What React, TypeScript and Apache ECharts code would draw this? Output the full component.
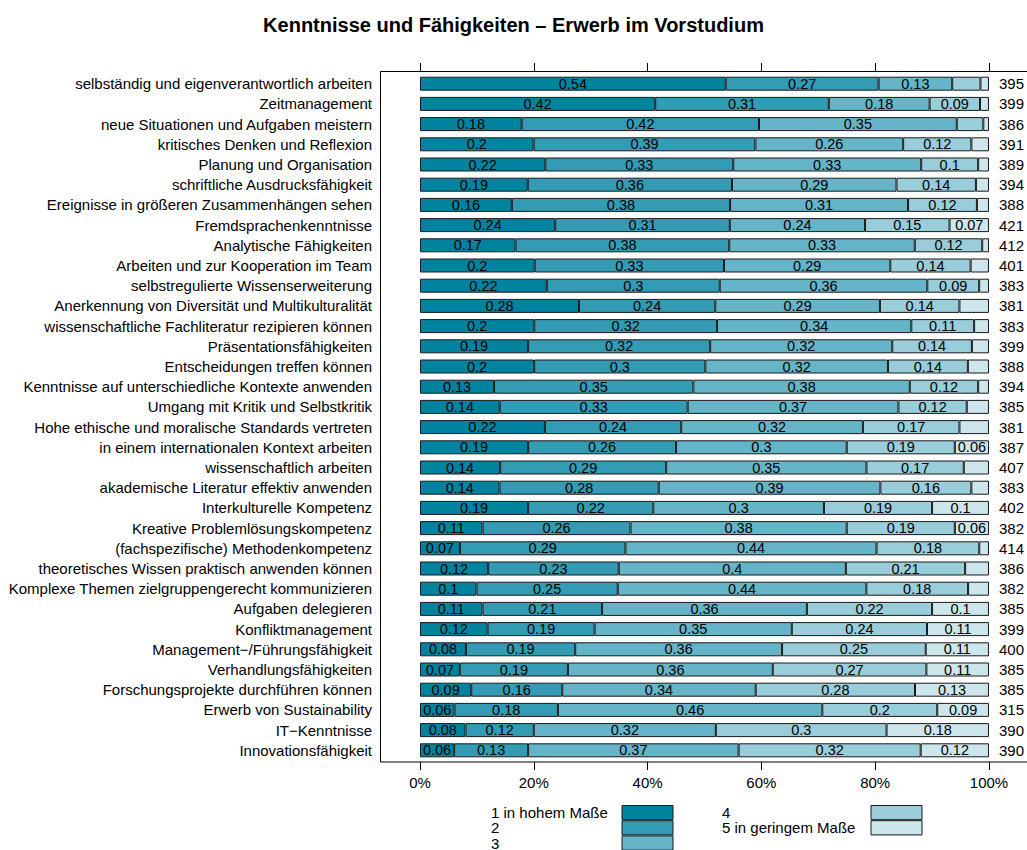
import React, { useEffect, useRef } from "react";
import * as echarts from "echarts";

const categories = [
  "selbständig und eigenverantwortlich arbeiten",
  "Zeitmanagement",
  "neue Situationen und Aufgaben meistern",
  "kritisches Denken und Reflexion",
  "Planung und Organisation",
  "schriftliche Ausdrucksfähigkeit",
  "Ereignisse in größeren Zusammenhängen sehen",
  "Fremdsprachenkenntnisse",
  "Analytische Fähigkeiten",
  "Arbeiten und zur Kooperation im Team",
  "selbstregulierte Wissenserweiterung",
  "Anerkennung von Diversität und Multikulturalität",
  "wissenschaftliche Fachliteratur rezipieren können",
  "Präsentationsfähigkeiten",
  "Entscheidungen treffen können",
  "Kenntnisse auf unterschiedliche Kontexte anwenden",
  "Umgang mit Kritik und Selbstkritik",
  "Hohe ethische und moralische Standards vertreten",
  "in einem internationalen Kontext arbeiten",
  "wissenschaftlich arbeiten",
  "akademische Literatur effektiv anwenden",
  "Interkulturelle Kompetenz",
  "Kreative Problemlösungskompetenz",
  "(fachspezifische) Methodenkompetenz",
  "theoretisches Wissen praktisch anwenden können",
  "Komplexe Themen zielgruppengerecht kommunizieren",
  "Aufgaben delegieren",
  "Konfliktmanagement",
  "Management\u2212/Führungsfähigkeit",
  "Verhandlungsfähigkeiten",
  "Forschungsprojekte durchführen können",
  "Erwerb von Sustainability",
  "IT\u2212Kenntnisse",
  "Innovationsfähigkeit",
];

const nValues = [
  395, 399, 386, 391, 389, 394, 388, 421, 412, 401, 383, 381, 383, 399, 388, 394, 385,
  381, 387, 407, 383, 402, 382, 414, 386, 382, 385, 399, 400, 385, 385, 315, 390, 390,
];

const seriesNames = ["1 in hohem Maße", "2", "3", "4", "5 in geringem Maße"];
const colors = ["#00839F", "#339BB3", "#66B4C7", "#99CDDA", "#CCE6EC"];

const s1 = [0.54, 0.42, 0.18, 0.2, 0.22, 0.19, 0.16, 0.24, 0.17, 0.2, 0.22, 0.28, 0.2, 0.19, 0.2, 0.13, 0.14, 0.22, 0.19, 0.14, 0.14, 0.19, 0.11, 0.07, 0.12, 0.1, 0.11, 0.12, 0.08, 0.07, 0.09, 0.06, 0.08, 0.06];
const s2 = [0.27, 0.31, 0.42, 0.39, 0.33, 0.36, 0.38, 0.31, 0.38, 0.33, 0.3, 0.24, 0.32, 0.32, 0.3, 0.35, 0.33, 0.24, 0.26, 0.29, 0.28, 0.22, 0.26, 0.29, 0.23, 0.25, 0.21, 0.19, 0.19, 0.19, 0.16, 0.18, 0.12, 0.13];
const s3 = [0.13, 0.18, 0.35, 0.26, 0.33, 0.29, 0.31, 0.24, 0.33, 0.29, 0.36, 0.29, 0.34, 0.32, 0.32, 0.38, 0.37, 0.32, 0.3, 0.35, 0.39, 0.3, 0.38, 0.44, 0.4, 0.44, 0.36, 0.35, 0.36, 0.36, 0.34, 0.46, 0.32, 0.37];
const s4 = [0.05, 0.09, 0.047, 0.12, 0.1, 0.14, 0.12, 0.15, 0.12, 0.14, 0.09, 0.14, 0.11, 0.14, 0.14, 0.12, 0.12, 0.17, 0.19, 0.17, 0.16, 0.19, 0.19, 0.18, 0.21, 0.18, 0.22, 0.24, 0.25, 0.27, 0.28, 0.2, 0.3, 0.32];
const s5 = [0.015, 0.016, 0.01, 0.031, 0.019, 0.023, 0.021, 0.07, 0.012, 0.032, 0.017, 0.052, 0.026, 0.03, 0.037, 0.019, 0.039, 0.052, 0.06, 0.044, 0.031, 0.1, 0.06, 0.017, 0.042, 0.037, 0.1, 0.11, 0.11, 0.11, 0.13, 0.09, 0.18, 0.12];

const tickValues = [0, 0.2, 0.4, 0.6, 0.8, 1];

const FONT = "'Liberation Sans', Arial, Helvetica, sans-serif";

export default function App() {
  const ref = useRef<HTMLDivElement>(null);

  useEffect(() => {
    if (!ref.current) return;
    const chart = echarts.init(ref.current, undefined, { renderer: "svg" });
    const all = [s1, s2, s3, s4, s5];
    const totals = categories.map((_, i) => all.reduce((a, s) => a + s[i], 0));
    const fmt = (v: number) => String(Math.round(v * 100) / 100);

    const series = all.map((arr, si) => ({
      name: seriesNames[si],
      type: "bar",
      stack: "total",
      xAxisIndex: 0,
      yAxisIndex: 0,
      barWidth: 14,
      data: arr.map((v, i) => ({ value: v / totals[i] })),
      itemStyle: { color: colors[si], borderColor: "#1a1a1a", borderWidth: 1 },
      label: {
        show: true,
        position: "inside",
        color: "#000",
        fontSize: 14.5,
        fontFamily: FONT,
        formatter: (p: any) => (arr[p.dataIndex] >= 0.055 ? fmt(arr[p.dataIndex]) : ""),
      },
      emphasis: { disabled: true },
    }));

    const legendBase = {
      orient: "vertical",
      top: 805,
      height: 80,
      padding: 0,
      itemGap: 0,
      itemWidth: 51,
      itemHeight: 14.2,
      align: "right",
      icon: "rect",
      selectedMode: false,
      itemStyle: { borderColor: "#1a1a1a", borderWidth: 1 },
      formatter: (n: string) => `{t|${n}}`,
    };

    chart.setOption({
      animation: false,
      textStyle: { fontFamily: FONT },
      title: {
        text: "Kenntnisse und Fähigkeiten – Erwerb im Vorstudium",
        left: "center",
        top: 10,
        textStyle: { fontSize: 20, fontWeight: "bold", color: "#000", fontFamily: FONT },
      },
      legend: [
        {
          ...legendBase,
          data: seriesNames.slice(0, 3),
          left: 491,
          textStyle: {
            rich: { t: { width: 126, align: "left", fontSize: 15, lineHeight: 12, color: "#000", fontFamily: FONT } },
          },
        },
        {
          ...legendBase,
          data: seriesNames.slice(3),
          left: 722,
          textStyle: {
            rich: { t: { width: 144, align: "left", fontSize: 15, lineHeight: 12, color: "#000", fontFamily: FONT } },
          },
        },
      ],
      grid: { left: 420, right: 37, top: 73.6, height: 686.8 },
      xAxis: [
        {
          type: "value",
          position: "bottom",
          min: 0,
          max: 1,
          interval: 0.2,
          offset: 1.6,
          axisLine: { show: false },
          axisTick: { show: true, length: 8, lineStyle: { color: "#000" } },
          splitLine: { show: false },
          axisLabel: {
            margin: 13,
            fontSize: 15,
            color: "#000",
            fontFamily: FONT,
            formatter: (v: number) => (tickValues.some((t) => Math.abs(t - v) < 1e-9) ? `${Math.round(v * 100)}%` : ""),
          },
        },
        {
          type: "value",
          position: "top",
          min: 0,
          max: 1,
          interval: 0.2,
          offset: 1.6,
          axisLine: { show: false },
          axisTick: { show: true, length: 9, lineStyle: { color: "#000" } },
          splitLine: { show: false },
          axisLabel: { show: false },
        },
      ],
      yAxis: [
        {
          type: "category",
          data: categories,
          inverse: true,
          axisLine: { show: false },
          axisTick: { show: false },
          axisLabel: { margin: 48, fontSize: 15, color: "#000", fontFamily: FONT },
        },
        {
          type: "category",
          data: nValues.map(String),
          inverse: true,
          position: "right",
          axisLine: { show: false },
          axisTick: { show: false },
          axisLabel: { margin: 10, fontSize: 15, color: "#000", fontFamily: FONT },
        },
      ],
      graphic: [
        {
          type: "rect",
          z: -10,
          silent: true,
          shape: { x: 380.5, y: 71.5, width: 700, height: 690.5 },
          style: { fill: "none", stroke: "#000", lineWidth: 1 },
        },
      ],
      series,
    });

    return () => chart.dispose();
  }, []);

  return (
    <div
      ref={ref}
      style={{ position: "absolute", left: 0, top: 0, width: 1027, height: 850, background: "#fff" }}
    />
  );
}
